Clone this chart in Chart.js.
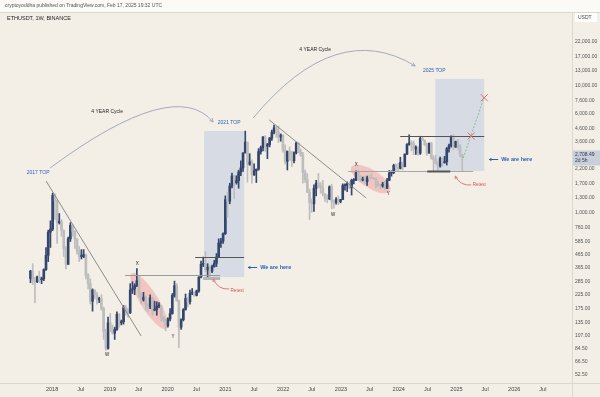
<!DOCTYPE html>
<html>
<head>
<meta charset="utf-8">
<script src="https://cdn.jsdelivr.net/npm/chart.js@4.4.1/dist/chart.umd.min.js"></script>
<style>
  html, body { margin: 0; padding: 0; background: #f3efe7; }
  #contenedor { width: 600px; height: 397px; }
</style>
</head>
<body>
<div id="contenedor"><canvas id="graficoEth" width="600" height="397"></canvas></div>
<script>
// ETHUSDT, 2-week candles from 2017-08-14
var inicio = '2017-08-14';
var diasVela = 14;

var opens = [
  302,345,295,285,310,295,300,355,460,700,
  740,1360,1240,830,850,720,520,390,620,790,
  710,620,500,450,450,465,320,275,200,245,
  225,205,210,175,115,85,135,120,112,120,
  158,135,138,178,170,162,245,250,265,290,
  228,205,215,190,180,212,170,173,183,183,
  150,142,128,145,160,222,265,200,125,143,
  172,210,198,231,235,222,241,310,390,390,
  355,370,345,375,398,446,575,595,680,1260,
  1230,1615,1935,1720,1780,2080,2240,2945,3580,2400,
  2500,1975,2130,2190,3010,3240,3930,3330,3420,3850,
  4290,4640,4300,3920,4060,3080,2530,3020,2620,2550,
  2950,3520,2990,2830,2060,1810,1450,1200,1170,1550,
  1700,1620,1570,1400,1290,1280,1590,1220,1200,1265,
  1220,1265,1630,1630,1690,1565,1790,1795,2090,1870,
  1800,1830,1750,1870,1860,1850,1830,1670,1630,1620,
  1670,1550,1790,2040,2060,2350,2260,2220,2470,2290,
  2880,3430,3520,3500,3150,3260,2930,3830,3700,3420,
  2930,3510,2690,2610,2430,2320,2660,2470,2510,3180,
  3360,3990,3280,3630,3310,2870
];
var highs = [
  350,395,310,315,345,310,360,530,725,860,
  1420,1400,1250,980,880,730,540,640,830,800,
  720,620,540,510,510,470,330,300,250,245,
  235,215,225,180,120,150,160,130,125,165,
  160,142,185,185,175,275,285,275,362,320,
  235,235,220,190,225,215,200,198,195,185,
  152,145,148,175,230,288,275,205,145,175,
  228,215,245,252,240,245,312,415,445,490,
  395,380,385,420,475,620,625,690,1350,1450,
  1700,2040,1960,1945,2150,2550,2950,4372,3580,2900,
  2600,2410,2200,3180,3340,3950,4030,3500,3900,4460,
  4870,4770,4780,4160,4100,3410,3050,3280,3040,3000,
  3580,3530,3170,2970,2160,2020,1530,1280,1650,1790,
  2030,1720,1790,1400,1380,1620,1670,1260,1310,1350,
  1270,1680,1680,1740,1740,1830,1850,2130,2140,1960,
  1900,1930,1930,1970,2020,1880,1870,1750,1660,1730,
  1750,1860,2140,2130,2400,2400,2440,2720,2480,2890,
  3480,4090,3680,3650,3350,3290,3980,3980,3720,3520,
  3520,3560,2800,2820,2510,2730,2680,2770,3250,3450,
  4000,4110,3640,3750,3430,2880
];
var lows = [
  280,270,195,280,280,275,290,350,410,530,
  720,880,570,810,650,450,360,390,590,650,
  520,470,410,430,440,300,250,190,167,210,
  190,195,170,100,82,84,115,110,100,118,
  125,130,132,155,150,160,230,225,260,215,
  190,200,170,165,175,155,168,155,178,140,
  138,117,125,140,158,215,200,86,120,140,
  170,180,190,225,218,220,235,305,375,340,
  310,310,335,370,375,440,530,570,670,920,
  1170,1560,1290,1670,1550,1950,2100,2935,1730,2350,
  1700,1960,1720,2150,2880,3050,3030,2650,3280,3690,
  4150,3900,3550,3640,2980,2400,2160,2580,2300,2450,
  2890,2950,2760,1700,1720,1430,880,1000,1020,1350,
  1560,1420,1350,1220,1190,1260,1070,1080,1160,1150,
  1190,1260,1500,1460,1540,1370,1680,1780,1780,1740,
  1770,1680,1630,1840,1850,1820,1550,1610,1530,1580,
  1520,1540,1780,1930,2020,2130,2100,2200,2160,2290,
  2850,3380,3050,2850,2860,2820,2860,3690,3360,2810,
  2930,2630,2110,2400,2150,2270,2310,2440,2360,2980,
  3270,3100,3250,3150,2750,2120
];
var closes = [
  345,295,285,310,295,300,355,460,700,740,
  1360,1240,830,850,720,520,390,620,790,710,
  620,500,450,450,465,320,275,200,245,225,
  205,210,175,115,85,135,120,112,120,158,
  135,138,178,170,162,245,250,265,290,228,
  205,215,190,180,212,170,173,183,183,150,
  142,128,145,160,222,265,200,125,143,172,
  210,198,231,235,222,241,310,390,390,355,
  370,345,375,398,446,575,595,680,1260,1230,
  1615,1935,1720,1780,2080,2240,2945,3580,2400,2500,
  1975,2130,2190,3010,3240,3930,3330,3420,3850,4290,
  4640,4300,3920,4060,3080,2530,3020,2620,2550,2950,
  3520,2990,2830,2060,1810,1450,1200,1170,1550,1700,
  1620,1570,1400,1290,1280,1590,1220,1200,1265,1220,
  1265,1630,1630,1690,1565,1790,1795,2090,1870,1800,
  1830,1750,1870,1860,1850,1830,1670,1630,1620,1670,
  1550,1790,2040,2060,2350,2260,2220,2470,2290,2880,
  3430,3520,3500,3150,3260,2930,3830,3700,3420,2930,
  3510,2690,2610,2430,2320,2660,2470,2510,3180,3360,
  3990,3280,3630,3310,2870,2708.49
];

var xTickDates = ['2018-01-01','2018-07-01','2019-01-01','2019-07-01','2020-01-01','2020-07-01',
  '2021-01-01','2021-07-01','2022-01-01','2022-07-01','2023-01-01','2023-07-01',
  '2024-01-01','2024-07-01','2025-01-01','2025-07-01','2026-01-01','2026-07-01'];
var xTickLabels = ['2018','Jul','2019','Jul','2020','Jul','2021','Jul','2022','Jul',
  '2023','Jul','2024','Jul','2025','Jul','2026','Jul'];
var yTicks = [22000,17000,13000,10000,7600,6000,4600,3600,2800,2200,1700,1300,1000,
  760,585,465,365,285,225,175,135,107,84.5,66.5,52.5];

var DIA = 86400000;
function anioDec(ms) {
    var y = new Date(ms).getUTCFullYear();
    var a = Date.UTC(y, 0, 1), b = Date.UTC(y + 1, 0, 1);
    return y + (ms - a) / (b - a);
}
var t0 = Date.parse(inicio + 'T00:00:00Z');
var xVelas = closes.map(function (c, i) { return anioDec(t0 + (i * diasVela + 3.5) * DIA); });
var xTicks = xTickDates.map(function (d) { return anioDec(Date.parse(d + 'T00:00:00Z')); });

var colSube = '#34466d', colBaja = '#bdbdbd';
var colores = closes.map(function (c, i) { return c >= opens[i] ? colSube : colBaja; });

var FUENTE = '"Liberation Sans", Arial, sans-serif';
function fuente(px, peso) { return (peso || '') + ' ' + px + 'px ' + FUENTE; }

function flecha(c, x, y, ang, s) {
    c.beginPath();
    c.moveTo(x, y);
    c.lineTo(x - s * Math.cos(ang - 0.45), y - s * Math.sin(ang - 0.45));
    c.moveTo(x, y);
    c.lineTo(x - s * Math.cos(ang + 0.45), y - s * Math.sin(ang + 0.45));
    c.stroke();
}

var fondo = {
    id: 'fondo',
    beforeDraw: function (chart) {
        var c = chart.ctx;
        c.save();
        c.fillStyle = '#f3efe7';
        c.fillRect(0, 0, 600, 397);
        c.fillStyle = '#fbfaf7';
        c.fillRect(0, 0, 600, 12);
        c.strokeStyle = '#ddd8cd';
        c.lineWidth = 1;
        c.beginPath();
        c.moveTo(0, 12.5); c.lineTo(600, 12.5);
        c.moveTo(572.5, 12); c.lineTo(572.5, 397);
        c.moveTo(0, 383.5); c.lineTo(600, 383.5);
        c.stroke();
        c.fillStyle = '#555';
        c.font = fuente(5);
        c.textBaseline = 'middle';
        c.fillText('cryptoyoddha published on TradingView.com, Feb 17, 2025 19:32 UTC', 5, 6);
        c.fillStyle = '#222';
        c.font = fuente(5.5);
        c.fillText('ETHUSDT, 1W, BINANCE', 7, 18);
        // USDT box
        c.fillStyle = '#ffffff';
        c.fillRect(575, 13, 22, 9);
        c.fillStyle = '#444';
        c.font = fuente(5);
        c.fillText('USDT', 578, 17.5);
        c.restore();
    }
};

var notas = {
    id: 'notas',
    beforeDatasetsDraw: function (chart) {
        var c = chart.ctx, a = chart.chartArea;
        var X = function (t) { return chart.scales.x.getPixelForValue(t); };
        var Y = function (v) { return chart.scales.y.getPixelForValue(v); };
        c.save();
        c.beginPath(); c.rect(a.left, a.top, a.right - a.left, a.bottom - a.top); c.clip();
        // shaded cycle boxes
        c.fillStyle = 'rgba(176,192,224,0.42)';
        [[2020.632, 2021.325, 310, 4380], [2024.632, 2025.481, 2121, 11250]].forEach(function (b) {
            c.fillRect(X(b[0]), Y(b[3]), X(b[1]) - X(b[0]), Y(b[2]) - Y(b[3]));
        });
        // pink ellipses
        c.fillStyle = 'rgba(238,140,140,0.42)';
        [[2019.40, 322, 2019.96, 125, 9], [2023.21, 2240, 2023.82, 1502, 9]].forEach(function (e) {
            var x1 = X(e[0]), y1 = Y(e[1]), x2 = X(e[2]), y2 = Y(e[3]);
            var rx = Math.hypot(x2 - x1, y2 - y1) / 2 + 2;
            c.beginPath();
            c.ellipse((x1 + x2) / 2, (y1 + y2) / 2, rx, e[4], Math.atan2(y2 - y1, x2 - x1), 0, Math.PI * 2);
            c.fill();
        });
        c.restore();
    },
    afterDatasetsDraw: function (chart) {
        var c = chart.ctx;
        var X = function (t) { return chart.scales.x.getPixelForValue(t); };
        var Y = function (v) { return chart.scales.y.getPixelForValue(v); };
        c.save();
        c.lineWidth = 1;

        // trend lines
        c.strokeStyle = '#8c8c8c';
        [[2017.896, 1768, 2019.541, 106.5], [2021.758, 5349, 2023.437, 1300]].forEach(function (l) {
            c.beginPath(); c.moveTo(X(l[0]), Y(l[1])); c.lineTo(X(l[2]), Y(l[3])); c.stroke();
        });

        // horizontal levels
        function nivel(t1, t2, v, col, w) {
            c.strokeStyle = col; c.lineWidth = w;
            var y = Math.round(Y(v)) + 0.5;
            c.beginPath(); c.moveTo(X(t1), y); c.lineTo(X(t2), y); c.stroke();
        }
        nivel(2019.264, 2020.909, 322, '#9a9a9a', 1);
        nivel(2020.476, 2021.325, 446, '#555', 1);
        nivel(2020.615, 2020.909, 305, '#b5b5b5', 3);
        nivel(2024.026, 2025.481, 4002, '#555', 1);
        nivel(2023.126, 2025.29, 2121, '#a8a8a8', 1);
        nivel(2024.494, 2024.892, 2121, '#555', 2);
        c.lineWidth = 1;

        // 4 year cycle arcs
        c.strokeStyle = '#a3abbb';
        [[2017.965, 2240, 2020.121, 11877, 2020.788, 5157],
         [2021.481, 5546, 2022.918, 33990, 2024.286, 14240]].forEach(function (r) {
            var x0 = X(r[0]), y0 = Y(r[1]), cx = X(r[2]), cy = Y(r[3]), x2 = X(r[4]), y2 = Y(r[5]);
            c.beginPath(); c.moveTo(x0, y0); c.quadraticCurveTo(cx, cy, x2, y2); c.stroke();
            flecha(c, x2, y2, Math.atan2(y2 - cy, x2 - cx), 4);
        });

        // green projection + red crosses
        c.strokeStyle = '#7fc28e';
        c.setLineDash([2, 1.5]);
        c.beginPath(); c.moveTo(X(2025.117), Y(2686)); c.lineTo(X(2025.481), Y(8117)); c.stroke();
        c.setLineDash([]);
        c.strokeStyle = '#e06a6a';
        [[2025.255, 4002], [2025.481, 8000]].forEach(function (p) {
            var x = X(p[0]), y = Y(p[1]);
            c.beginPath();
            c.moveTo(x - 3.5, y - 3.5); c.lineTo(x + 3.5, y + 3.5);
            c.moveTo(x + 3.5, y - 3.5); c.lineTo(x - 3.5, y + 3.5);
            c.stroke();
        });

        // retest hooks
        c.strokeStyle = '#e07a7a';
        [[2021.065, 250, 2020.875, 245, 2020.788, 299], [2025.255, 1645, 2025.065, 1615, 2024.978, 1936]].forEach(function (r) {
            var x0 = X(r[0]), y0 = Y(r[1]), cx = X(r[2]), cy = Y(r[3]), x2 = X(r[4]), y2 = Y(r[5]);
            c.beginPath(); c.moveTo(x0, y0); c.quadraticCurveTo(cx, cy, x2, y2); c.stroke();
            flecha(c, x2, y2, Math.atan2(y2 - cy, x2 - cx), 3);
        });

        // texts
        c.textBaseline = 'middle';
        c.textAlign = 'center';
        function texto(s, t, v, col, px, peso) {
            c.fillStyle = col; c.font = fuente(px, peso);
            c.fillText(s, X(t), Y(v));
        }
        texto('2017 TOP', 2017.758, 2046, '#2e5fb3', 5);
        texto('2021 TOP', 2021.065, 5065, '#2e5fb3', 5);
        texto('2025 TOP', 2024.615, 13000, '#2e5fb3', 5);
        texto('4 YEAR Cycle', 2018.952, 6184, '#222', 5);
        texto('4 YEAR Cycle', 2022.554, 19030, '#222', 5);
        texto('W', 2018.952, 75.5, '#222', 4.5);
        texto('X', 2019.472, 393, '#222', 4.5);
        texto('Y', 2020.095, 104.6, '#222', 4.5);
        texto('W', 2022.866, 956, '#222', 4.5);
        texto('X', 2023.264, 2366, '#222', 4.5);
        texto('Y', 2023.818, 1398, '#222', 4.5);
        texto('Retest', 2021.203, 241, '#d9534f', 4.5);
        texto('Retest', 2025.394, 1645, '#d9534f', 4.5);

        // we are here
        c.textAlign = 'left';
        [[2021.394, 372], [2025.567, 2636]].forEach(function (p) {
            var x = X(p[0]), y = Math.round(Y(p[1])) + 0.5;
            c.strokeStyle = '#2e5fb3';
            c.beginPath(); c.moveTo(x, y); c.lineTo(x + 9, y); c.stroke();
            flecha(c, x, y, Math.PI, 2.5);
            c.fillStyle = '#2e5fb3';
            c.font = fuente(5.5, 'bold');
            c.fillText('We are here', x + 12, y);
        });

        // last price label on axis
        var yp = Y(closes[closes.length - 1]);
        c.fillStyle = '#c9d0dc';
        c.fillRect(573, yp - 7, 27, 15);
        c.fillStyle = '#2d3444';
        c.font = fuente(5);
        c.fillText('2,708.49', 575, yp - 2.5);
        c.fillText('2d 5h', 575, yp + 3.5);
        c.restore();
    }
};

var ctx = document.getElementById('graficoEth').getContext('2d');
var chart = new Chart(ctx, {
    type: 'bar',
    data: {
        datasets: [{
            label: 'mechas',
            data: xVelas.map(function (x, i) { return { x: x, y: [lows[i], highs[i]] }; }),
            backgroundColor: colores,
            barThickness: 1,
            minBarLength: 1
        }, {
            label: 'cuerpos',
            data: xVelas.map(function (x, i) { return { x: x, y: [opens[i], closes[i]] }; }),
            backgroundColor: colores,
            barThickness: 2,
            minBarLength: 1
        }]
    },
    options: {
        responsive: false,
        animation: false,
        devicePixelRatio: 1,
        datasets: { bar: { grouped: false } },
        layout: { padding: { top: 13, left: 3, right: 0, bottom: 0 } },
        plugins: { legend: { display: false }, tooltip: { enabled: false } },
        scales: {
            x: {
                type: 'linear',
                min: 2017.15,
                max: 2027.0,
                offset: false,
                grid: { display: false, drawTicks: false },
                border: { display: false },
                afterBuildTicks: function (s) { s.ticks = xTicks.map(function (v) { return { value: v }; }); },
                afterFit: function (s) { s.height = 14; },
                ticks: {
                    autoSkip: false, maxRotation: 0, padding: 3,
                    color: '#444', font: { size: 5.5, family: FUENTE },
                    callback: function (v, i) { return xTickLabels[i]; }
                }
            },
            y: {
                type: 'logarithmic',
                position: 'right',
                min: 45.4,
                max: 37200,
                grid: { display: false, drawTicks: false },
                border: { display: false },
                afterBuildTicks: function (s) { s.ticks = yTicks.map(function (v) { return { value: v }; }); },
                afterFit: function (s) { s.width = 28; },
                ticks: {
                    padding: 3, color: '#555', font: { size: 5, family: FUENTE },
                    callback: function (v) {
                        return Number(v).toLocaleString('en-US', { minimumFractionDigits: 2, maximumFractionDigits: 2 });
                    }
                }
            }
        }
    },
    plugins: [fondo, notas]
});
</script>
</body>
</html>
